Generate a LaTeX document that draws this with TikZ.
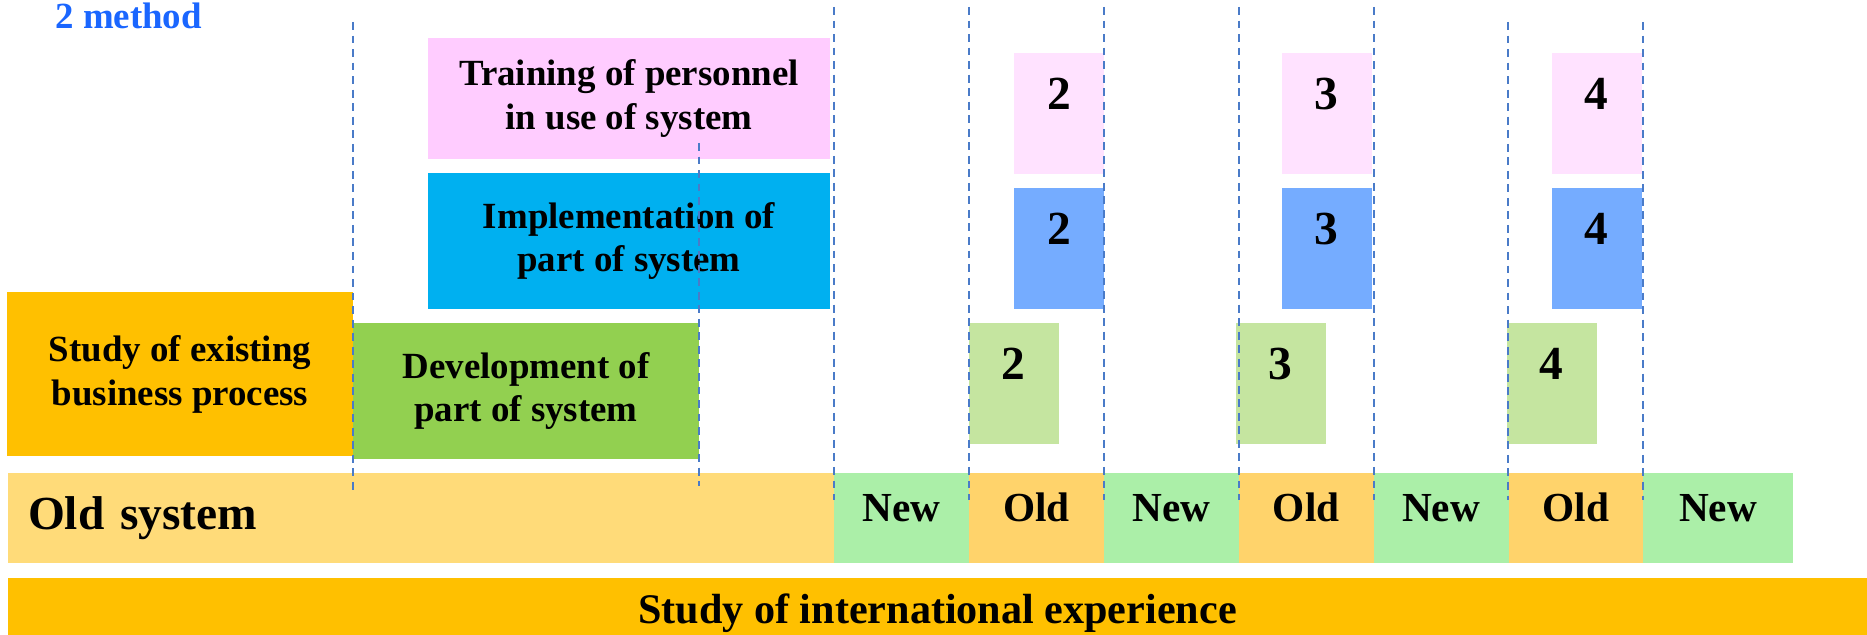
\documentclass[tikz,border=0pt]{standalone}
\usepackage{fontspec}
\setmainfont{Liberation Serif}
\definecolor{trainpink}{RGB}{255,204,255}
\definecolor{pinklight}{RGB}{255,226,255}
\definecolor{implcyan}{RGB}{0,176,240}
\definecolor{bluelight}{RGB}{117,172,255}
\definecolor{studyorange}{RGB}{255,192,0}
\definecolor{devgreen}{RGB}{146,208,80}
\definecolor{greenlight}{RGB}{197,229,160}
\definecolor{oldbar}{RGB}{255,219,121}
\definecolor{oldcell}{RGB}{255,211,107}
\definecolor{newcell}{RGB}{171,239,168}
\definecolor{lineblue}{RGB}{74,123,200}
\definecolor{titleblue}{RGB}{26,102,255}
\begin{document}
\begin{tikzpicture}[x=0.02cm,y=-0.02cm,
    box/.style={inner sep=0pt,align=center,font=\bfseries\fontsize{21}{25}\selectfont},
    part/.style={inner sep=0pt,minimum width=1.8cm,minimum height=2.42cm,
        font=\bfseries\fontsize{27}{30}\selectfont,text height=18.3pt,text depth=22.9pt},
    cell/.style={inner sep=0pt,minimum width=2.698cm,minimum height=1.8cm,
        font=\bfseries\fontsize{23.5}{28}\selectfont,text height=0.68em,text depth=0.28em},
    sepline/.style={lineblue,line width=0.7pt,dash pattern=on 4.5pt off 3.2pt}]
    \useasboundingbox (0,0) rectangle (1867,635);
    \node[anchor=base west,text=titleblue,inner sep=0pt,font=\bfseries\fontsize{21}{25}\selectfont] (title) at (55,29) {2 method};
    % first round
    \node[box,fill=trainpink,minimum width=8.04cm,minimum height=2.42cm] (train) at (629,98.5) {Training of personnel\\in use of system};
    \node[box,fill=implcyan,minimum width=8.04cm,minimum height=2.72cm] (impl) at (629,241) {Implementation of\\part of system};
    \node[box,fill=studyorange,minimum width=6.92cm,minimum height=3.28cm] (study) at (180,374) {Study of existing\\business process};
    \node[box,fill=devgreen,minimum width=6.92cm,minimum height=2.72cm] (dev) at (526,391) {Development of\\part of system};
    % next rounds
    \foreach \n/\xx in {2/1059,3/1326.5,4/1596.5} {
        \node[part,fill=pinklight] (tr\n) at (\xx,113.5) {\n};
        \node[part,fill=bluelight] (im\n) at (\xx,248.5) {\n};
    }
    \foreach \n/\xx in {2/1013.5,3/1280.5,4/1551.5}
        \node[part,fill=greenlight] (dv\n) at (\xx,383.5) {\n};
    % systems bar
    \node[fill=oldbar,minimum width=16.52cm,minimum height=1.8cm,text width=15.72cm,inner xsep=0.4cm,inner ysep=0pt,align=left,
        font=\bfseries\fontsize{27}{30}\selectfont] (oldsys) at (421,518) {Old system};
    \node[cell,fill=newcell] (c1) at (901.5,518) {New};
    \node[cell,fill=oldcell] (c2) at (1036.4,518) {Old};
    \node[cell,fill=newcell] (c3) at (1171.3,518) {New};
    \node[cell,fill=oldcell] (c4) at (1306.2,518) {Old};
    \node[cell,fill=newcell] (c5) at (1441.1,518) {New};
    \node[cell,fill=oldcell] (c6) at (1576,518) {Old};
    \node[cell,fill=newcell,minimum width=3cm] (c7) at (1718,518) {New};
    \node[fill=studyorange,minimum width=37.18cm,minimum height=1.4cm,inner sep=0pt,
        font=\bfseries\fontsize{24}{28}\selectfont] (intl) at (937.5,613) {Study of international experience};
    % guide lines
    \draw[sepline] (353,22) -- (353,490);
    \draw[sepline] (699,143) -- (699,486);
    \foreach \xx/\top in {834/7,969/7,1104/7,1239/7,1374/7,1508/22,1643/22}
        \draw[sepline] (\xx,\top) -- (\xx,500);
\end{tikzpicture}
\end{document}
